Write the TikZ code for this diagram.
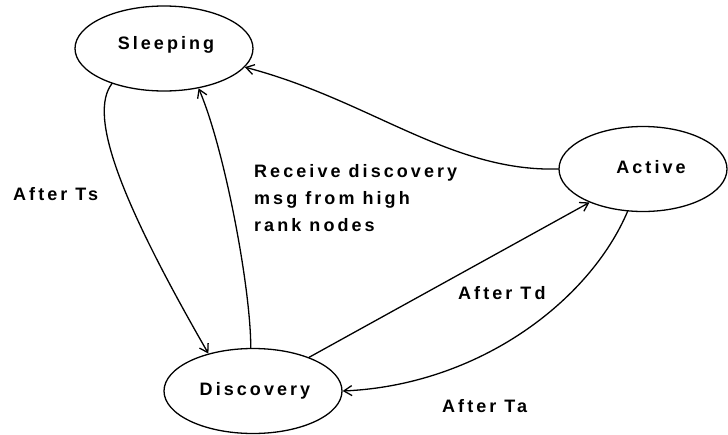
\documentclass[tikz,border=0pt]{standalone}
\usepackage{fontspec}
\setmainfont{Liberation Sans}[LetterSpace=17]
\usetikzlibrary{arrows.meta,shapes.geometric}

\tikzset{
  state/.style={ellipse, draw, line width=1.3pt, inner sep=0pt,
                minimum width=178pt, minimum height=85pt},
  lbl/.style={inner sep=0pt, font=\fontsize{18}{27}\selectfont\bfseries},
  trans/.style={line width=1.3pt, line cap=round,
                -{Straight Barb[length=8pt,width=10pt,line width=1.3pt]}}
}

\begin{document}
\begin{tikzpicture}[x=1pt,y=-1pt]
\useasboundingbox (0,0) rectangle (728,434);

% states
\node[state] (sleeping) at (164,48.5) {};
\node[state] (discovery) at (253,391) {};
\node[state, minimum width=168pt] (active) at (643,169) {};

\node[lbl, anchor=base] (sleepingtext) at (166,49) {Sleeping};
\node[lbl, anchor=base] (discoverytext) at (255,395) {Discovery};
\node[lbl, anchor=base] (activetext) at (651,173) {Active};

% transitions
\draw[trans] (sleeping.214) .. controls (88,115) and (120,200) .. (discovery.140);
\draw[trans] (discovery.93) .. controls (251,290) and (225,150) .. (sleeping.311);
\draw[trans] (active.180) .. controls (450,172) and (370,100) .. (sleeping.347);
\draw[trans] (discovery.31) -- (active.212);
\draw[trans] (active.250) .. controls (590,300) and (480,385) .. (discovery.0);

% transition labels (a multi-line node's base is its last line)
\node[lbl, anchor=base west] (ts) at (13,200) {After Ts};
\node[lbl, anchor=base west, align=left] (recv) at (254,231)
  {Receive discovery\\msg from high\\rank nodes};
\node[lbl, anchor=base west] (td) at (458,299) {After Td};
\node[lbl, anchor=base west] (ta) at (442,412) {After Ta};
\end{tikzpicture}
\end{document}
